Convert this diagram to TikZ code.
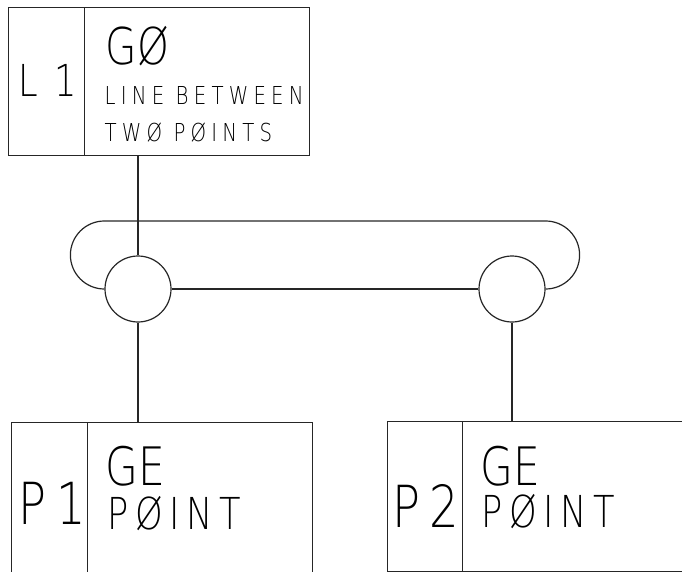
\documentclass[tikz,border=0pt]{standalone}
\usepackage{fontspec}
\newfontfamily\plotfont{DejaVu Sans}[UprightFont=* ExtraLight, FakeStretch=0.8, LetterSpace=15]
\newcommand{\plotsize}[1]{\fontsize{#1}{#1}\selectfont}

\tikzset{
  cell/.style={draw, rectangle, inner sep=0pt, anchor=north west},
  joint/.style={draw, circle, minimum size=66pt, inner sep=0pt},
  tag/.style={anchor=base west, inner sep=0pt, font=\plotfont},
  tight/.style={tag, font=\plotfont\addfontfeature{LetterSpace=0}},
  wide/.style={tag, font=\plotfont\addfontfeature{LetterSpace=21}},
}

\begin{document}
\begin{tikzpicture}[x=1pt, y=1pt, line width=1.2pt, draw=black!85]
    \useasboundingbox (0,0) rectangle (682,-572);
    \clip (0,0) rectangle (682,-572);

    % line record
    \node[cell, minimum width=76pt, minimum height=148pt] (L1) at (8,-7) {};
    \node[cell, minimum width=225pt, minimum height=148pt] (L1b) at (84,-7) {};
    \node[tag] (L1n) at (18,-97) {\plotsize{44}L\kern16pt1};
    \node[tight] (L1op) at (105,-65) {\plotsize{50.7}GØ};
    \node[wide] (L1d1) at (104,-105) {\plotsize{24.7}LINE BETWEEN};
    \node[wide] (L1d2) at (104,-142) {\plotsize{24.7}TWØ PØINTS};

    % point records
    \node[cell, minimum width=76pt, minimum height=170pt] (P1) at (11,-422) {};
    \node[cell, minimum width=225pt, minimum height=170pt] (P1b) at (87,-422) {};
    \node[tag] (P1n) at (18,-524) {\plotsize{58}P\kern10pt1};
    \node[tight] (P1op) at (105,-485) {\plotsize{53}GE};
    \node[tag] (P1d) at (107,-529) {\plotsize{44}PØINT};

    \node[cell, minimum width=75pt, minimum height=150pt] (P2) at (387,-421) {};
    \node[cell, minimum width=260pt, minimum height=150pt] (P2b) at (462,-421) {};
    \node[tag] (P2n) at (392,-527) {\plotsize{58}P2};
    \node[tight] (P2op) at (480,-485) {\plotsize{53}GE};
    \node[tag] (P2d) at (481,-527) {\plotsize{44}PØINT};

    % set joints
    \node[joint] (J1) at (138,-289) {};
    \node[joint] (J2) at (512,-289) {};

    \draw (J1 |- L1b.south) -- (J1.north);
    \draw (J1.south) -- (J1 |- P1b.north);
    \draw (J2.south) -- (J2 |- P2b.north);
    \draw (J1.east) -- (J2.west);
    \draw (J1.west) arc[start angle=270, end angle=90, radius=34pt]
        -- ([yshift=68pt]J2.east) arc[start angle=90, end angle=-90, radius=34pt];
\end{tikzpicture}
\end{document}
